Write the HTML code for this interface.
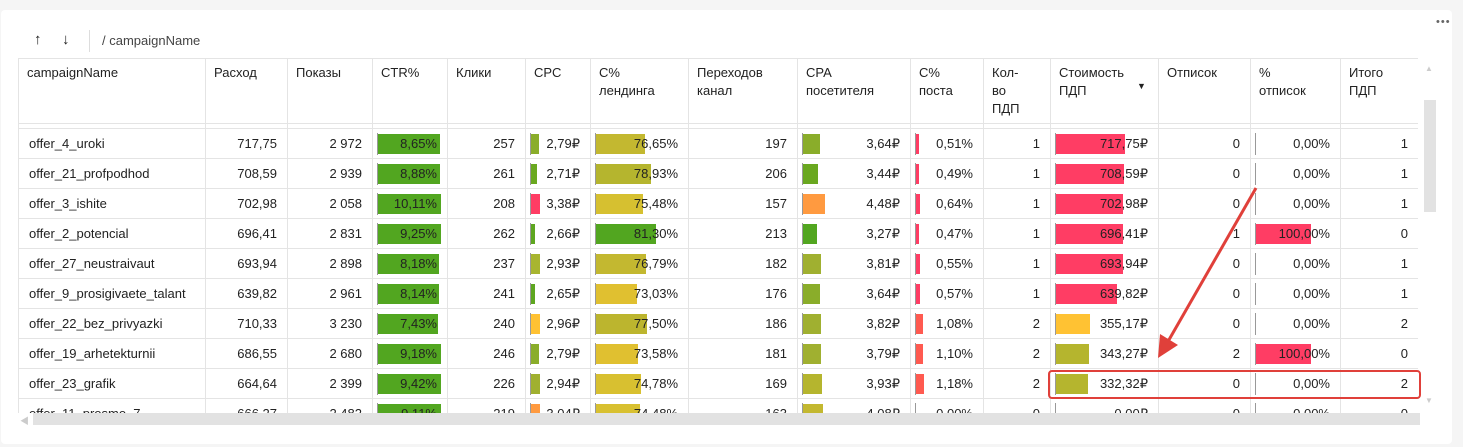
<!DOCTYPE html>
<html><head><meta charset="utf-8">
<style>
body{margin:0;width:1463px;height:447px;background:#f5f5f5;font-family:"Liberation Sans","Noto Sans CJK SC",sans-serif;font-size:13px;color:#222;overflow:hidden;position:relative}
#card{position:absolute;left:1px;top:10px;width:1451px;height:434px;background:#fff;border-radius:4px}
.a{position:absolute;box-sizing:border-box}
.cell{position:absolute;box-sizing:border-box;border-right:1px solid #e4e4e4;border-bottom:1px solid #e4e4e4;white-space:nowrap;overflow:hidden}
.hd{padding:5px 8px;line-height:18px;font-size:13px}
.num{text-align:right;padding-right:10px;line-height:29px}
.txt{padding-left:10px;line-height:29px}
.bar{position:absolute;top:5px;height:20px}
.axis{position:absolute;top:0;height:30px;width:1px;background:#999}
</style></head><body>
<div id="card"></div>
<div class="a" style="left:34px;top:31px;font-size:15px">↑</div>
<div class="a" style="left:62px;top:31px;font-size:15px">↓</div>
<div class="a" style="left:89px;top:30px;width:1px;height:22px;background:#ddd"></div>
<div class="a" style="left:102px;top:33px;color:#444">/ campaignName</div>
<div class="a" style="left:1436px;top:16px;color:#666;letter-spacing:1px;font-size:11px">•••</div>
<div id="tbl" class="a" style="left:18px;top:58px;width:1400px;height:355px;overflow:hidden;border-left:1px solid #e4e4e4;border-top:1px solid #e4e4e4"></div>
<div class="a" style="left:33px;top:413px;width:1387px;height:12px;background:#e2e2e2"></div>
<div class="a" style="left:20px;top:414px;color:#ccc;font-size:9px">◀</div>
<div class="a" style="left:1424px;top:100px;width:12px;height:112px;background:#e2e2e2"></div>
<div class="a" style="left:1425px;top:64px;color:#ccc;font-size:8px">▲</div>
<div class="a" style="left:1425px;top:396px;color:#ccc;font-size:8px">▼</div>
<div class="a" style="left:1048px;top:370px;width:373px;height:29px;border:2px solid #e0403a;border-radius:4px"></div>
<svg class="a" style="left:0;top:0" width="1463" height="447">
<line x1="1256" y1="188" x2="1166" y2="345" stroke="#e0403a" stroke-width="3"/>
<polygon points="1158,358 1160,334 1178,345" fill="#e0403a"/>
</svg>
<script>
const names=["offer_4_uroki","offer_21_profpodhod","offer_3_ishite","offer_2_potencial","offer_27_neustraivaut","offer_9_prosigivaete_talant","offer_22_bez_privyazki","offer_19_arhetekturnii","offer_23_grafik","offer_11_prosmo_7"];
const spend=["717,75","708,59","702,98","696,41","693,94","639,82","710,33","686,55","664,64","666,27"];
const shows=["2 972","2 939","2 058","2 831","2 898","2 961","3 230","2 680","2 399","2 482"];
const ctr=[8.65,8.88,10.11,9.25,8.18,8.14,7.43,9.18,9.42,9.11];
const clicks=[257,261,208,262,237,241,240,246,226,219];
const cpc=[2.79,2.71,3.38,2.66,2.93,2.65,2.96,2.79,2.94,3.04];
const cpcCol=["#8aad2a","#6aa820","#ff3d64","#5ea620","#a8b530","#5ea620","#ffc233","#8aad2a","#a0b030","#ff9a40"];
const land=[76.65,78.93,75.48,81.30,76.79,73.03,77.50,73.58,74.78,74.48];
const landCol=["#c3b830","#b5b52e","#d6c030","#52a620","#c3b830","#e0c030","#bcb52e","#e0c030","#d8c030","#d8c030"];
const trans=[197,206,157,213,182,176,186,181,169,163];
const cpa=[3.64,3.44,4.48,3.27,3.81,3.64,3.82,3.79,3.93,4.08];
const cpaCol=["#8aad2a","#6aa820","#ff9a40","#52a620","#a0b030","#8aad2a","#a0b030","#a0b030","#b5b52e","#c3b830"];
const post=[0.51,0.49,0.64,0.47,0.55,0.57,1.08,1.10,1.18,0.00];
const postCol=["#ff3d64","#ff3d64","#ff3d64","#ff3d64","#ff3d64","#ff3d64","#ff5a50","#ff5a50","#ff5a50","#ff3d64"];
const cnt=[1,1,1,1,1,1,2,2,2,0];
const cost=[717.75,708.59,702.98,696.41,693.94,639.82,355.17,343.27,332.32,0];
const costCol=["#ff3d64","#ff3d64","#ff3d64","#ff3d64","#ff3d64","#ff3d64","#ffc233","#b5b52e","#b5b52e","#b5b52e"];
const uns=[0,0,0,1,0,0,0,2,0,0];
const unsPct=[0,0,0,100,0,0,0,100,0,0];
const total=[1,1,1,0,1,1,2,0,2,0];
const headers=["campaignName","Расход","Показы","CTR%","Клики","CPC","C%<br>лендинга","Переходов<br>канал","CPA<br>посетителя","C%<br>поста","Кол-<br>во<br>ПДП","Стоимость<br>ПДП","Отписок","%<br>отписок","Итого<br>ПДП"];
const edges=[0,187,269,354,429,507,572,670,779,892,965,1032,1140,1232,1322,1400];
const fmt=(v,d)=>v.toFixed(d).replace('.',',');
const T=document.getElementById('tbl');
function cell(i,top,h,cls,html){const d=document.createElement('div');d.className='cell '+cls;d.style.left=edges[i]+'px';d.style.top=top+'px';d.style.width=(edges[i+1]-edges[i])+'px';d.style.height=h+'px';d.innerHTML=html;T.appendChild(d);return d;}
headers.forEach((h,i)=>{const c=cell(i,0,65,'hd',h);


if(i==11){const s=document.createElement('span');s.textContent='▼';s.style.cssText='position:absolute;left:86px;top:18px;font-size:9px;color:#222';c.appendChild(s);}});
for(let i=0;i<15;i++){cell(i,65,5,'','');}
function barCell(i,top,w,col,label){const c=cell(i,top,30,'num','');
if(w>0){const b=document.createElement('div');b.className='bar';b.style.left='5px';b.style.width=w+'px';b.style.background=col;c.appendChild(b);

}
const ax=document.createElement('div');ax.className='axis';ax.style.left='4px';ax.style.height='22px';ax.style.top='4px';c.appendChild(ax);
const sp=document.createElement('span');sp.style.position='relative';sp.innerHTML=label;c.appendChild(sp);return c;}
names.forEach((n,r)=>{const top=70+r*30;
const nc=cell(0,top,30,'txt',n);


cell(1,top,30,'num',spend[r]);cell(2,top,30,'num',shows[r]);
barCell(3,top,Math.min(63,50+ctr[r]*1.4),'#52a620',fmt(ctr[r],2)+'%');
cell(4,top,30,'num',clicks[r]);
barCell(5,top,Math.max(2,Math.min(9,(cpc[r]-2.5)*28)),cpcCol[r],fmt(cpc[r],2)+'₽');
barCell(6,top,(land[r]-73)*2.3+41,landCol[r],fmt(land[r],2)+'%');
cell(7,top,30,'num',trans[r]);
barCell(8,top,14+(cpa[r]-3.27)*7,cpaCol[r],fmt(cpa[r],2)+'₽');
barCell(9,top,post[r]*6.5,postCol[r],fmt(post[r],2)+'%');
cell(10,top,30,'num',cnt[r]);
barCell(11,top,cost[r]*0.096,costCol[r],fmt(cost[r],2)+'₽');
cell(12,top,30,'num',uns[r]);
barCell(13,top,unsPct[r]*0.55,'#ff3d64',fmt(unsPct[r],2)+'%');
cell(14,top,30,'num',total[r]);});
</script>
</body></html>
